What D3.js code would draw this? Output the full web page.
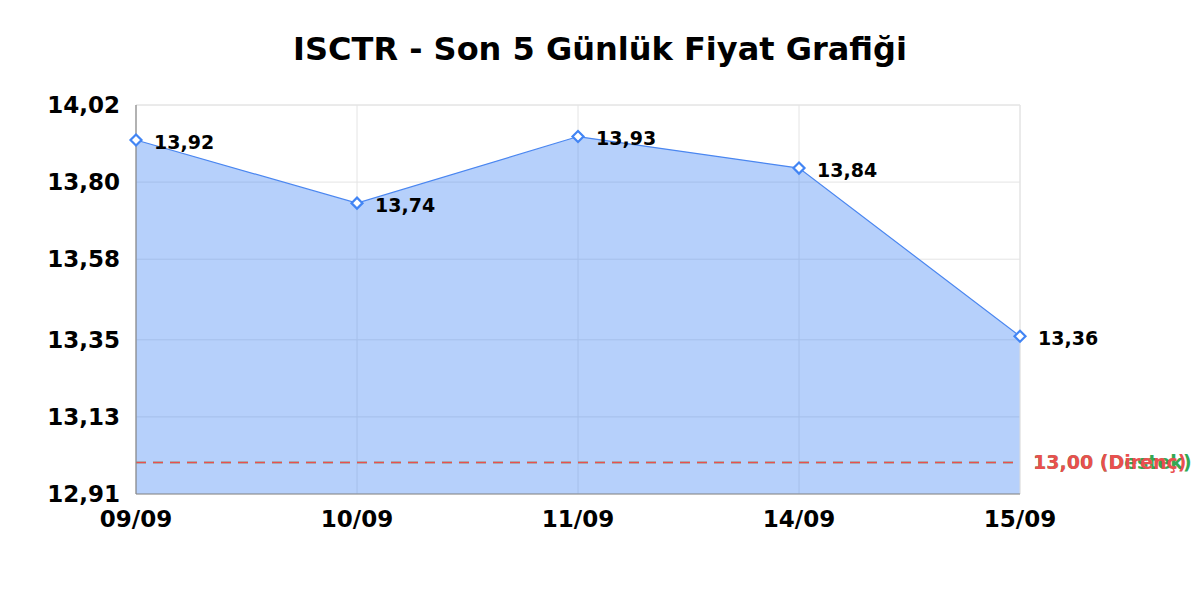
<!DOCTYPE html>
<html lang="tr">
<head>
  <meta charset="UTF-8">
  <title>ISCTR - Son 5 Günlük Fiyat Grafiği</title>
  <script src="https://d3js.org/d3.v7.min.js"></script>
  <style>
    html, body { margin: 0; padding: 0; background: #fff; }
    svg text { font-family: "DejaVu Sans", sans-serif; font-weight: bold; }
  </style>
</head>
<body>
<svg id="chart" width="1200" height="600"></svg>
<script>
const days = ["09/09", "10/09", "11/09", "14/09", "15/09"];
const prices = [13.92, 13.74, 13.93, 13.84, 13.36];
const yTicks = [12.91, 13.13, 13.35, 13.58, 13.80, 14.02];
// both levels sit at 13,00, so the labels fall on top of each other as in the original
const levels = [
  {value: 13.00, label: "13,00 (Destek)", color: "#34a853"},
  {value: 13.00, label: "13,00 (Direnç)", color: "#ea4f4f"}
];

const svg = d3.select("#chart"),
      plotL = 136, plotR = 1020, plotT = 105, plotB = 494;

const x = d3.scalePoint().domain(days).range([plotL, plotR]);
const y = d3.scaleLinear().domain([12.91, 14.02]).range([plotB, plotT]);
const fmt = v => v.toFixed(2).replace(".", ",");

svg.append("text")
  .attr("x", 600).attr("y", 60)
  .attr("text-anchor", "middle")
  .attr("font-size", 32)
  .text("ISCTR - Son 5 Günlük Fiyat Grafiği");

// grid
const grid = svg.append("g").attr("stroke", "#e4e4e4").attr("stroke-width", 1);
grid.selectAll(".h").data(yTicks).join("line")
  .attr("x1", plotL).attr("x2", plotR)
  .attr("y1", d => y(d)).attr("y2", d => y(d));
grid.selectAll(".v").data(days).join("line")
  .attr("x1", d => x(d)).attr("x2", d => x(d))
  .attr("y1", plotT).attr("y2", plotB);

// area + line
const pts = days.map((d, i) => [d, prices[i]]);
svg.append("path")
  .datum(pts)
  .attr("fill", "rgba(66,133,244,0.39)")
  .attr("d", d3.area().x(d => x(d[0])).y0(plotB).y1(d => y(d[1])));
svg.append("path")
  .datum(pts)
  .attr("fill", "none")
  .attr("stroke", "#4a86f0")
  .attr("stroke-width", 1.2)
  .attr("d", d3.line().x(d => x(d[0])).y(d => y(d[1])));

// support / resistance
levels.forEach(l => {
  svg.append("line")
    .attr("x1", plotL).attr("x2", plotR)
    .attr("y1", y(l.value)).attr("y2", y(l.value))
    .attr("stroke", l.color).attr("stroke-width", 1.5)
    .attr("stroke-dasharray", "10,7");
  svg.append("text")
    .attr("x", plotR + 13).attr("y", y(l.value))
    .attr("dy", "0.35em")
    .attr("font-size", 19)
    .attr("fill", l.color)
    .text(l.label);
});

// axes lines
svg.append("line").attr("x1", plotL).attr("x2", plotR).attr("y1", plotT).attr("y2", plotT)
  .attr("stroke", "#e4e4e4");
svg.append("line").attr("x1", plotR).attr("x2", plotR).attr("y1", plotT).attr("y2", plotB)
  .attr("stroke", "#e4e4e4");
svg.append("line").attr("x1", plotL).attr("x2", plotL).attr("y1", plotT).attr("y2", plotB)
  .attr("stroke", "#888").attr("stroke-width", 1.2);
svg.append("line").attr("x1", plotL).attr("x2", plotR).attr("y1", plotB).attr("y2", plotB)
  .attr("stroke", "#888").attr("stroke-width", 1.2);

// tick labels
svg.append("g").selectAll("text").data(yTicks).join("text")
  .attr("x", 120).attr("y", d => y(d))
  .attr("dy", "0.36em")
  .attr("text-anchor", "end")
  .attr("font-size", 23)
  .text(fmt);
svg.append("g").selectAll("text").data(days).join("text")
  .attr("x", d => x(d)).attr("y", 527)
  .attr("text-anchor", "middle")
  .attr("font-size", 23)
  .text(d => d);

// markers and value labels
svg.append("g").selectAll("path").data(pts).join("path")
  .attr("transform", d => `translate(${x(d[0])},${y(d[1])})`)
  .attr("d", "M0,-5.5L5.5,0L0,5.5L-5.5,0Z")
  .attr("fill", "#fff")
  .attr("stroke", "#4285f4")
  .attr("stroke-width", 2.2);
svg.append("g").selectAll("text").data(pts).join("text")
  .attr("x", d => x(d[0]) + 18).attr("y", d => y(d[1]) + 2)
  .attr("dy", "0.36em")
  .attr("font-size", 19)
  .text(d => fmt(d[1]));
</script>
</body>
</html>
